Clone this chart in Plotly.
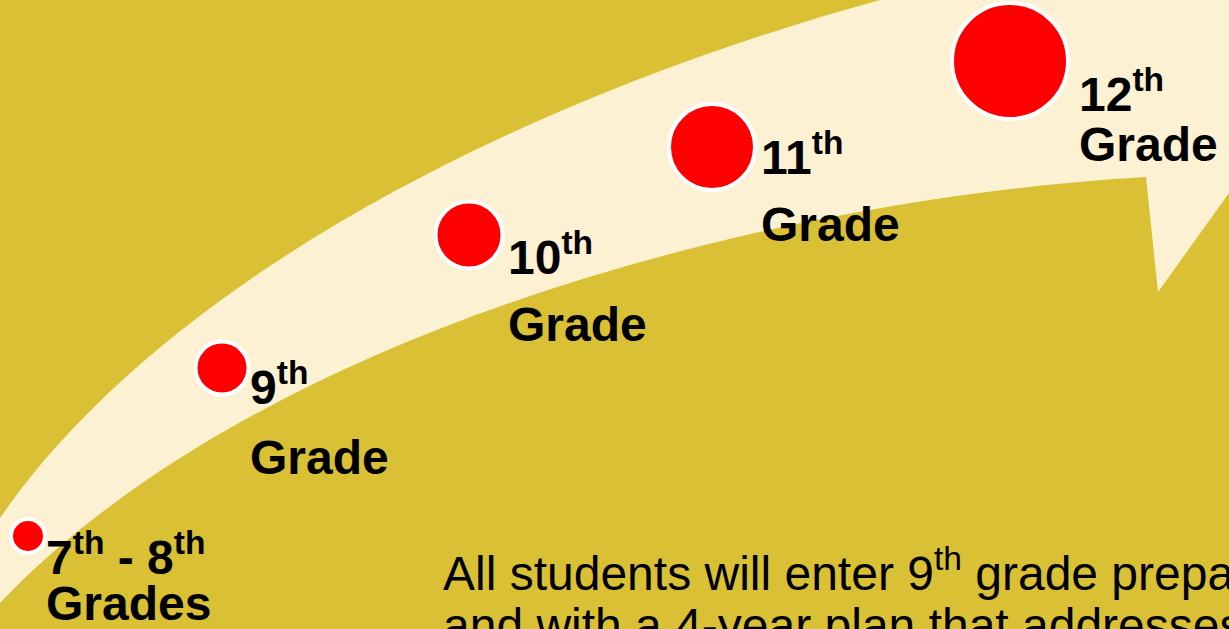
import plotly.graph_objects as go

# ---- data ----
grades = ["7th - 8th", "9th", "10th", "11th", "12th"]
label_line1 = ["7<sup>th</sup> - 8<sup>th</sup>", "9<sup>th</sup>", "10<sup>th</sup>", "11<sup>th</sup>", "12<sup>th</sup>"]
label_line2 = ["Grades", "Grade", "Grade", "Grade", "Grade"]
circle_x = [28, 222, 469, 712, 1010]
circle_y = [536, 368, 235, 147, 61]
circle_d = [34, 53, 67, 86, 116]

paragraph_lines = [
    "All students will enter 9<sup>th</sup> grade prepared for high school",
    "and with a 4-year plan that addresses their goals",
]

# ---- styling / layout helpers ----
GOLD = "#D9C034"
CREAM = "#FCF2D3"
RED = "#FF0000"
FONT = "Arial, Liberation Sans, sans-serif"
FS = 48

# label placement (baseline of line 1 / line 2, left x)
lab_x = [44, 248, 506, 759, 1077]
lab_b1 = [576, 406, 276, 176, 113]
lab_b2 = [622, 476, 343, 243, 163]

fig = go.Figure()

# arrow band (decorative shape)
arrow_path = (
    "M 0,518 C 150,300 480,110 880,0 "
    "L 1450,-120 L 1229,193 L 1158,292 L 1146,177 "
    "C 750,200 250,340 0,603 Z"
)
fig.add_shape(type="path", path=arrow_path, xref="x", yref="y",
              fillcolor=CREAM, line=dict(width=0), layer="below")

fig.add_trace(go.Scatter(
    x=circle_x, y=circle_y, mode="markers",
    marker=dict(size=circle_d, color=RED, opacity=1,
                line=dict(color="white", width=4)),
    hoverinfo="text", text=grades, showlegend=False,
))

def baseline_to_center(b, has_sup):
    return b - 0.35 * FS - (5 if has_sup else 2)

for i in range(len(grades)):
    fig.add_annotation(x=lab_x[i], y=baseline_to_center(lab_b1[i], True), text="<b>" + label_line1[i] + "</b>",
                       xanchor="left", yanchor="middle", showarrow=False,
                       font=dict(family=FONT, size=FS, color="black"))
    fig.add_annotation(x=lab_x[i], y=baseline_to_center(lab_b2[i], False), text="<b>" + label_line2[i] + "</b>",
                       xanchor="left", yanchor="middle", showarrow=False,
                       font=dict(family=FONT, size=FS, color="black"))

para_b = [592, 644]
for j, t in enumerate(paragraph_lines):
    fig.add_annotation(x=441, y=baseline_to_center(para_b[j], "<sup>" in t), text=t,
                       xanchor="left", yanchor="middle", showarrow=False,
                       font=dict(family=FONT, size=FS, color="black"))

fig.update_layout(
    width=1229, height=629,
    margin=dict(l=0, r=0, t=0, b=0),
    paper_bgcolor=GOLD, plot_bgcolor=GOLD,
    xaxis=dict(range=[0, 1229], visible=False, fixedrange=True),
    yaxis=dict(range=[629, 0], visible=False, fixedrange=True),
    showlegend=False,
)

fig.write_html("out.html", config={"displayModeBar": False},
               post_script="document.body.style.margin='0';document.body.style.overflow='hidden';")
